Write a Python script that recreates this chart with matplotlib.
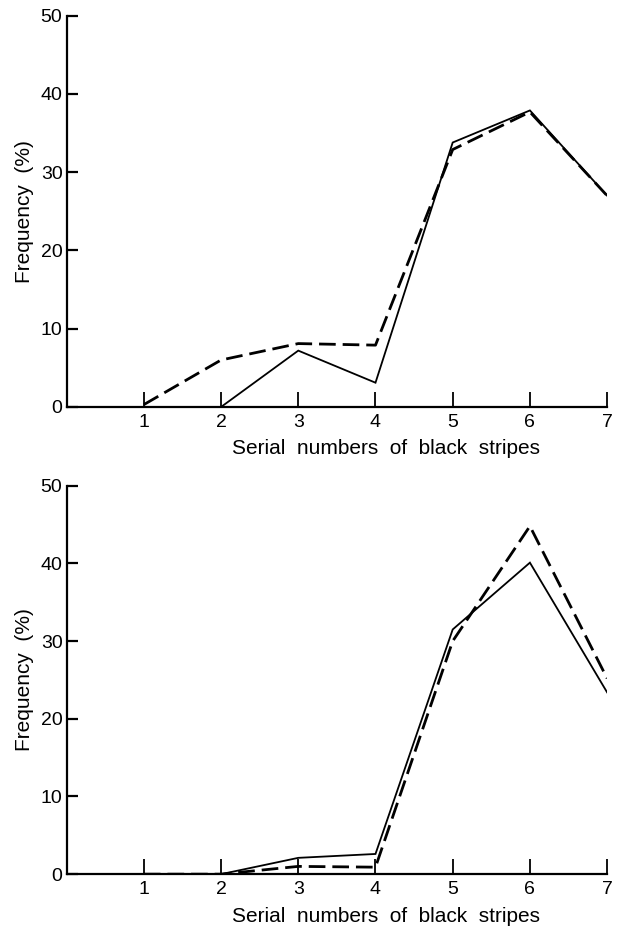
import numpy as np
import matplotlib.pyplot as plt

plt.rcParams["font.family"] = ["Liberation Sans", "DejaVu Sans"]

# stripe serial numbers
stripes = [1, 2, 3, 4, 5, 6, 7]

# upper panel
top_solid = [0, 0, 7.2, 3.1, 33.8, 37.9, 27.0]
top_dashed = [0.3, 6.0, 8.1, 7.9, 32.9, 37.7, 27.0]

# lower panel
bottom_solid = [0, 0, 2.1, 2.6, 31.5, 40.1, 23.4]
bottom_dashed = [0, 0, 1.0, 0.9, 30.0, 44.8, 25.2]

yticks = [0, 10, 20, 30, 40, 50]


def draw_panel(ax, solid, dashed):
    ax.plot(stripes, solid, color="black", lw=1.3, solid_joinstyle="miter")
    ax.plot(stripes, dashed, color="black", lw=2.0, ls=(0, (6, 2.5)))

    ax.set_xlim(0, 7)
    ax.set_ylim(0, 50)
    ax.set_xticks(stripes)
    ax.set_yticks(yticks)

    for side in ("top", "right"):
        ax.spines[side].set_visible(False)
    for side in ("left", "bottom"):
        ax.spines[side].set_linewidth(1.6)
        ax.spines[side].set_clip_on(False)

    ax.tick_params(axis="x", direction="in", length=11, width=1.3,
                   labelsize=14, pad=5)
    ax.tick_params(axis="y", direction="in", length=8, width=1.6,
                   labelsize=14, pad=3)

    ax.set_xlabel("Serial  numbers  of  black  stripes", fontsize=15)
    ax.xaxis.label.set_va("center")
    # label sits a fixed distance under the axis, shifted right
    h = ax.get_position().height * 927
    ax.xaxis.set_label_coords(0.59, -42 / h)
    ax.set_ylabel("Frequency  (%)", fontsize=15, labelpad=5)


fig = plt.figure(figsize=(6.17, 9.27), dpi=100)
ax1 = fig.add_axes([0.108, 0.561, 0.876, 0.422])
ax2 = fig.add_axes([0.108, 0.057, 0.876, 0.419])

draw_panel(ax1, top_solid, top_dashed)
draw_panel(ax2, bottom_solid, bottom_dashed)

fig.savefig("out.png", dpi=100)
